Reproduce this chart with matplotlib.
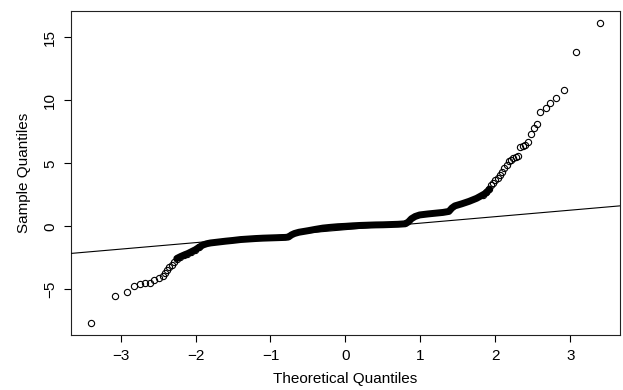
"""
Normal Q-Q plot (R qqnorm/qqline style) redrawn with matplotlib.
"""

import numpy as np
import matplotlib.pyplot as plt

plt.rcParams.update({
    'font.family': ['Liberation Sans', 'DejaVu Sans'],
    'font.size': 11,
})

# Individually visible points in the lower tail (theoretical, sample)
low_theo = [-3.39, -3.08, -2.92, -2.82, -2.74, -2.67, -2.61, -2.55, -2.49,
            -2.44, -2.41, -2.38, -2.35, -2.32, -2.29, -2.25, -2.21, -2.16,
            -2.11, -2.06, -2.01, -1.96]
low_samp = [-7.64, -5.51, -5.22, -4.74, -4.58, -4.52, -4.49, -4.28, -4.10,
            -3.94, -3.73, -3.50, -3.25, -3.05, -2.86, -2.62, -2.44, -2.30,
            -2.18, -2.02, -1.85, -1.66]

# Dense middle part, where the circles merge into one solid band
band_theo = [-2.25, -2.20, -2.15, -2.10, -2.05, -2.00, -1.95, -1.90, -1.85,
             -1.80, -1.70, -1.60, -1.50, -1.40, -1.30, -1.20, -1.10, -1.00,
             -0.90, -0.80, -0.76, -0.72, -0.68, -0.62, -0.55, -0.50, -0.40,
             -0.30, -0.20, -0.10, 0.00, 0.10, 0.20, 0.30, 0.40, 0.50, 0.60,
             0.70, 0.80, 0.84, 0.88, 0.93, 0.99, 1.10, 1.20, 1.30, 1.38,
             1.42, 1.46, 1.55, 1.65, 1.75, 1.82, 1.88, 1.92]
band_samp = [-2.55, -2.40, -2.27, -2.15, -2.00, -1.85, -1.65, -1.48, -1.38,
             -1.32, -1.25, -1.18, -1.12, -1.05, -1.01, -0.97, -0.94, -0.92,
             -0.90, -0.88, -0.85, -0.68, -0.57, -0.47, -0.40, -0.35, -0.24,
             -0.14, -0.08, -0.03, 0.00, 0.04, 0.07, 0.09, 0.11, 0.12, 0.14,
             0.16, 0.20, 0.35, 0.60, 0.78, 0.90, 0.98, 1.04, 1.10, 1.18,
             1.45, 1.62, 1.78, 1.98, 2.22, 2.45, 2.65, 2.95]

# Individually visible points in the upper tail
high_theo = [1.84, 1.88, 1.91, 1.94, 1.97, 2.00, 2.03, 2.06, 2.09, 2.12,
             2.15, 2.18, 2.21, 2.24, 2.27, 2.30, 2.33, 2.37, 2.40, 2.44,
             2.47, 2.51, 2.55, 2.60, 2.67, 2.73, 2.81, 2.91, 3.07, 3.39]
high_samp = [2.50, 2.70, 2.95, 3.25, 3.45, 3.67, 3.85, 4.05, 4.33, 4.62,
             4.87, 5.15, 5.28, 5.38, 5.47, 5.55, 6.30, 6.38, 6.45, 6.67,
             7.33, 7.83, 8.10, 9.10, 9.41, 9.81, 10.16, 10.79, 13.86, 16.10]

# qqline: passes through the quartile points
qq_intercept = -0.265
qq_slope = 0.515

x_ticks = [-3, -2, -1, 0, 1, 2, 3]
y_ticks = [-5, 0, 5, 10, 15]

fig = plt.figure(figsize=(6.23, 3.9), dpi=100)
ax = fig.add_axes([0.114, 0.142, 0.881, 0.829])

# solid band of overlapping circles
ax.plot(band_theo, band_samp, color='black', lw=5.0,
        solid_capstyle='round', solid_joinstyle='round', zorder=2)

for xs, ys in [(low_theo, low_samp), (high_theo, high_samp)]:
    ax.plot(xs, ys, linestyle='none', marker='o', markersize=4.5,
            markerfacecolor='none', markeredgecolor='black',
            markeredgewidth=0.8, zorder=3)

ax.axline((0, qq_intercept), slope=qq_slope, color='black', lw=0.8, zorder=4)

# R style 4% padding around the data range
all_x = np.concatenate([low_theo, band_theo, high_theo])
all_y = np.concatenate([low_samp, band_samp, high_samp])
xpad = 0.04 * (all_x.max() - all_x.min())
ypad = 0.04 * (all_y.max() - all_y.min())
ax.set_xlim(all_x.min() - xpad, all_x.max() + xpad)
ax.set_ylim(all_y.min() - ypad, all_y.max() + ypad)

ax.set_xticks(x_ticks)
ax.set_xticklabels([f'{t}'.replace('-', '\u2212') for t in x_ticks])
ax.set_yticks(y_ticks)
ax.set_yticklabels([f'{t}'.replace('-', '\u2212') for t in y_ticks],
                   rotation=90, va='center')
ax.tick_params(direction='out', length=5, width=0.8, pad=5, colors='black')

for s in ax.spines.values():
    s.set_linewidth(0.8)
    s.set_color('#222222')

ax.set_xlabel('Theoretical Quantiles', labelpad=7)
ax.set_ylabel('Sample Quantiles', labelpad=9)

fig.savefig('out.png', dpi=100)
